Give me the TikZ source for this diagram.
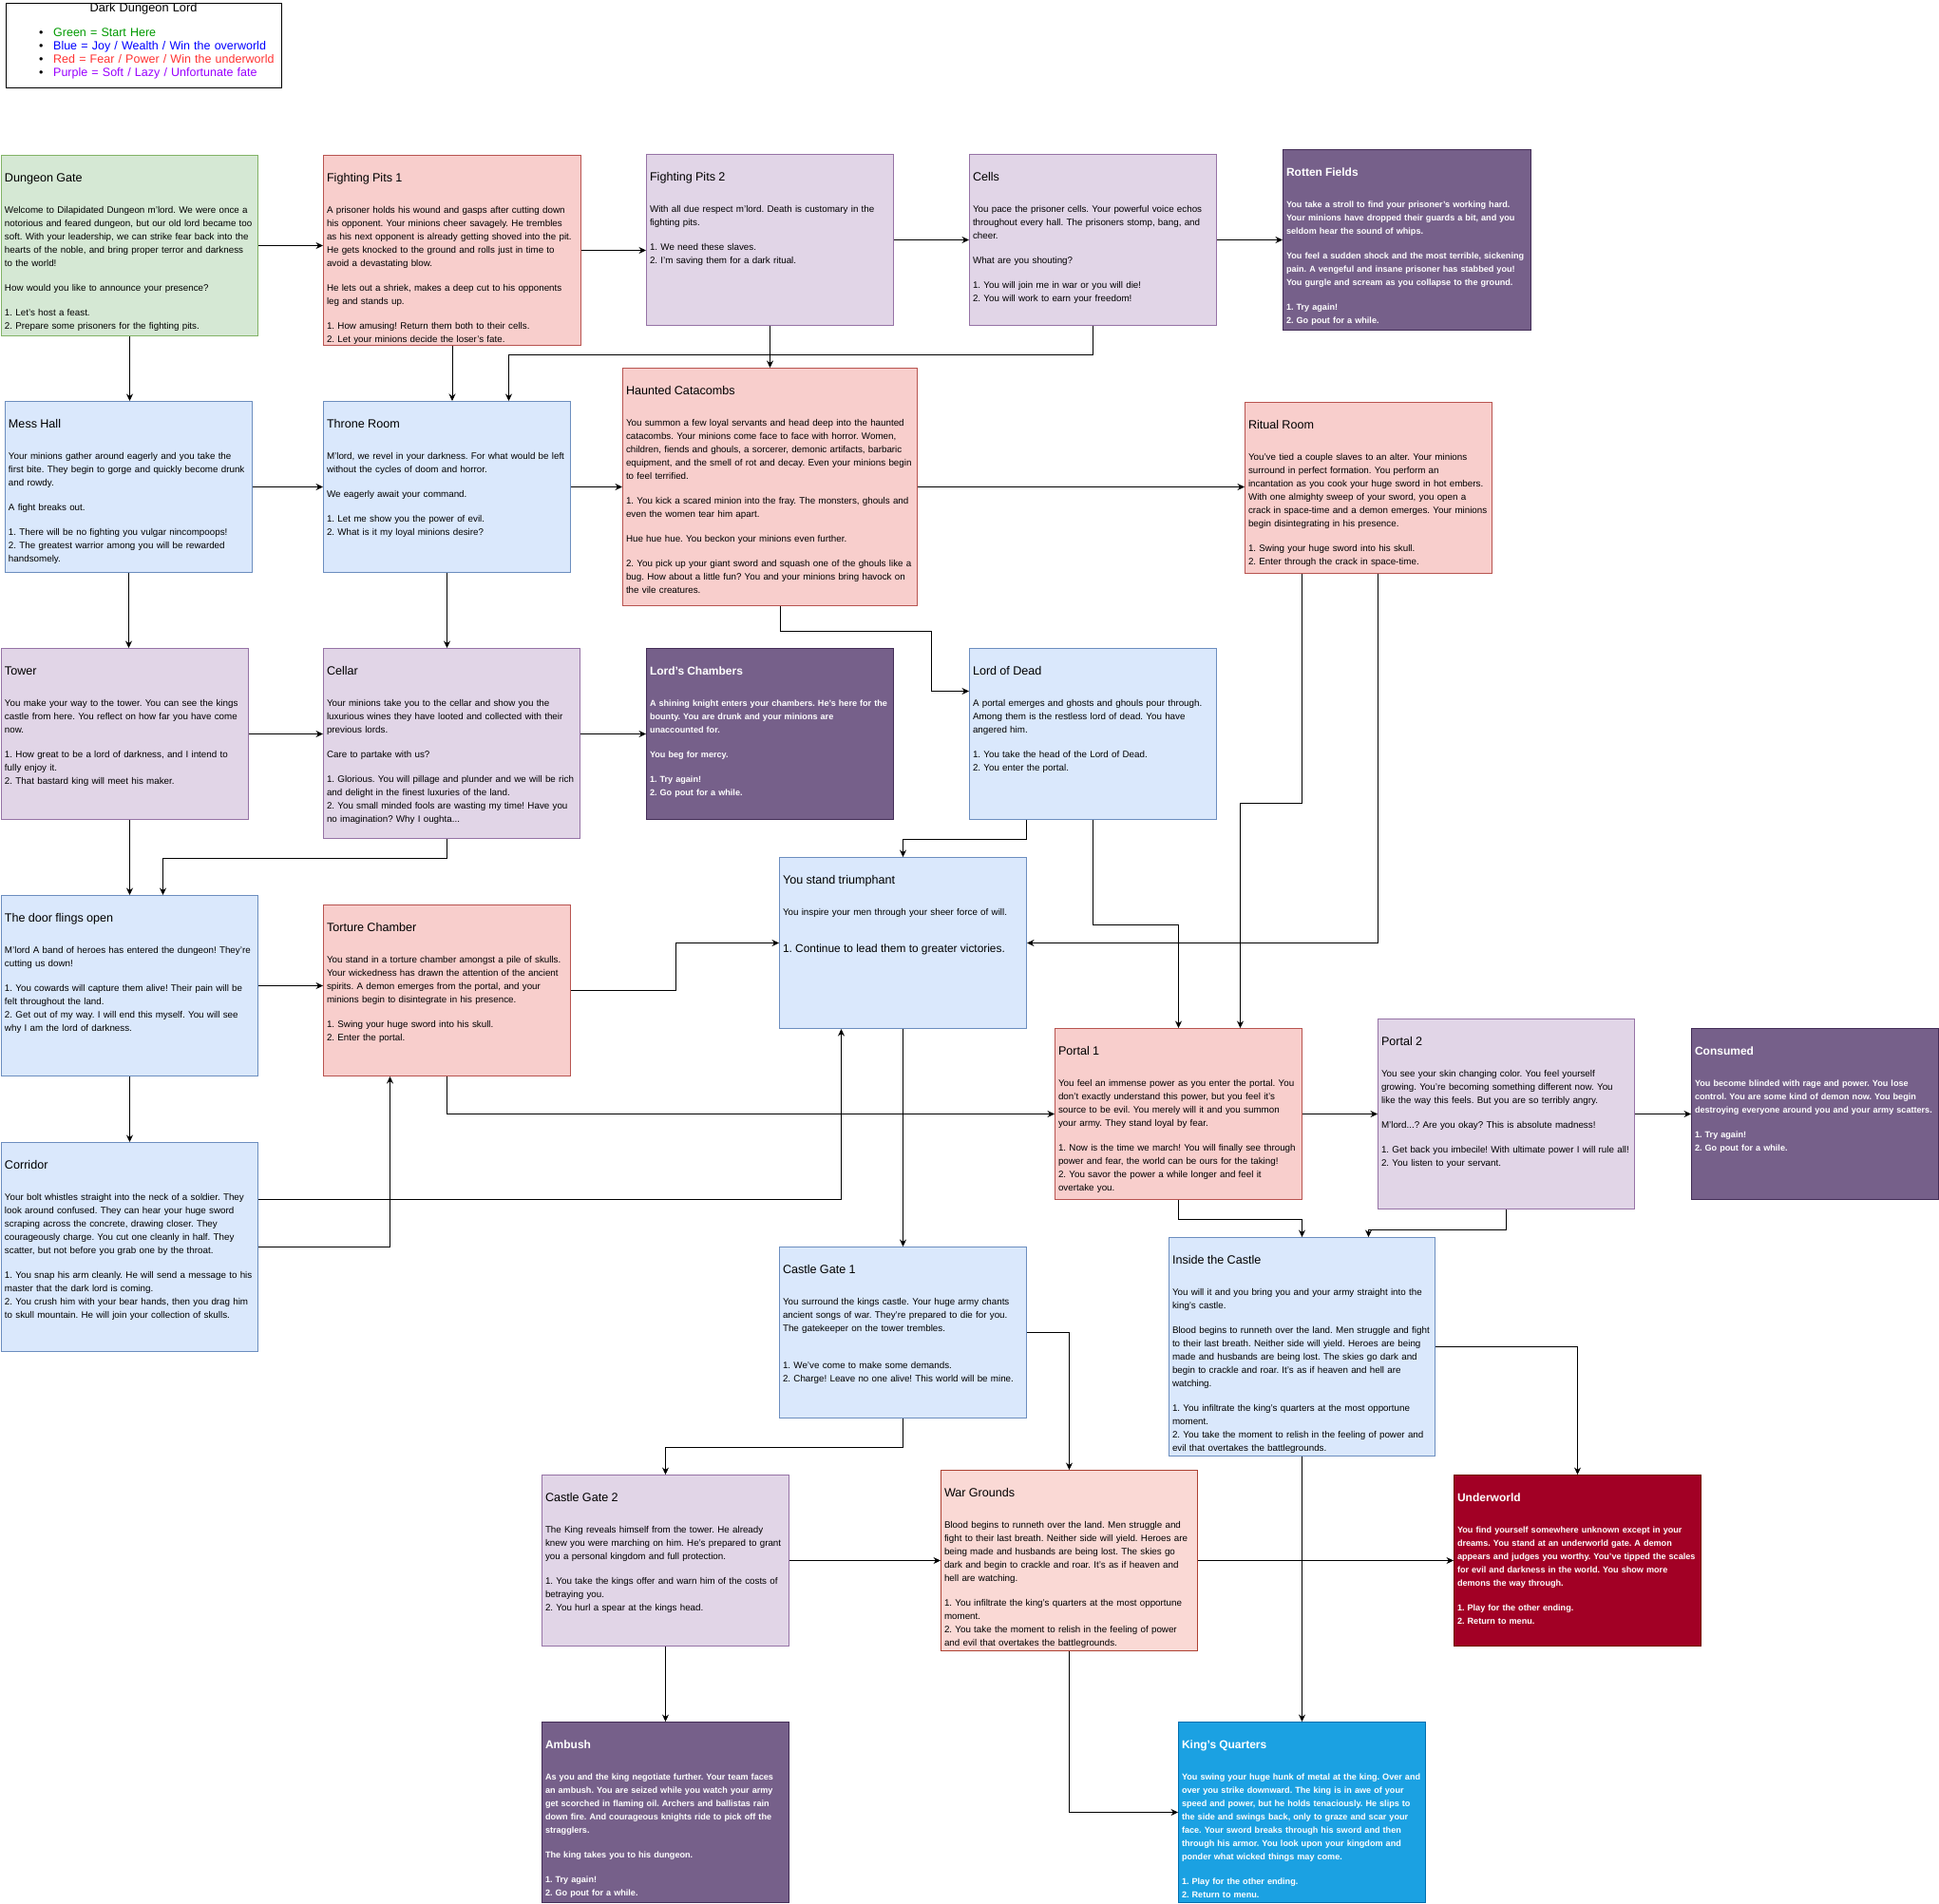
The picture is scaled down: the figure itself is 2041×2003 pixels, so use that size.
\documentclass[tikz,border=0pt]{standalone}
\usepackage{fontspec}
\setmainfont{Liberation Sans}
\usetikzlibrary{arrows.meta}
\frenchspacing
\hyphenpenalty=10000
\exhyphenpenalty=10000
\definecolor{startfill}{HTML}{D5E8D4}\definecolor{startline}{HTML}{82B366}
\definecolor{fearfill}{HTML}{F8CECC}\definecolor{fearline}{HTML}{B85450}
\definecolor{softfill}{HTML}{E1D5E7}\definecolor{softline}{HTML}{9673A6}
\definecolor{joyfill}{HTML}{DAE8FC}\definecolor{joyline}{HTML}{6C8EBF}
\definecolor{doomfill}{HTML}{76608A}\definecolor{doomline}{HTML}{432D57}
\definecolor{hellfill}{HTML}{A20025}\definecolor{hellline}{HTML}{6F0000}
\definecolor{crownfill}{HTML}{1BA1E2}\definecolor{crownline}{HTML}{006EAF}
\definecolor{warfill}{HTML}{FAD9D5}\definecolor{warline}{HTML}{AE4132}
\definecolor{keygreen}{HTML}{009900}\definecolor{keyblue}{HTML}{0000FF}
\definecolor{keyred}{HTML}{FF3333}\definecolor{keypurple}{HTML}{9900FF}
\newcommand{\roomfont}{\fontsize{9.8}{14}\selectfont}
\newcommand{\roomhead}{\fontsize{12.6}{15}\selectfont}
\newcommand{\doomfont}{\fontsize{9.1}{14}\selectfont\bfseries}
\newcommand{\doomhead}{\fontsize{12}{15}\selectfont\bfseries}
\begin{document}
\begin{tikzpicture}[x=1pt,y=-1pt,line width=1pt,>={Stealth[length=7.5pt,width=7pt,inset=2.5pt]},
  room/.style 2 args={draw,anchor=north west,inner xsep=3.5pt,inner ysep=0pt,align=left,
    font=\roomfont,text height=27.5pt,
    /utils/exec={\pgfmathsetmacro\roomw{#1-7}\pgfmathsetmacro\roomd{#2-27.5}},
    text width=\roomw pt,text depth=\roomd pt},
  startroom/.style={fill=startfill,draw=startline},
  fearroom/.style={fill=fearfill,draw=fearline},
  softroom/.style={fill=softfill,draw=softline},
  joyroom/.style={fill=joyfill,draw=joyline},
  warroom/.style={fill=warfill,draw=warline},
  doomroom/.style={fill=doomfill,draw=doomline,text=white,font=\doomfont},
  hellroom/.style={fill=hellfill,draw=hellline,text=white,font=\doomfont},
  crownroom/.style={fill=crownfill,draw=crownline,text=white,font=\doomfont}]
\useasboundingbox (0,0) rectangle (2041,2003);

\node[draw,anchor=north west,inner sep=0pt,align=left,text width=290pt,text height=9.1pt,
  text depth=80.5pt,font=\fontsize{12.5}{14}\selectfont] (legend) at (5.5,2.7)
 {\makebox[290pt]{\fontsize{12.8}{14}\selectfont Dark Dungeon Lord}\\[12.3pt]
  \hspace*{35pt}\textbullet\hspace{10.8pt}\textcolor{keygreen}{Green = Start Here}\\
  \hspace*{35pt}\textbullet\hspace{10.8pt}\textcolor{keyblue}{Blue = Joy / Wealth / Win the overworld}\\
  \hspace*{35pt}\textbullet\hspace{10.8pt}\textcolor{keyred}{Red = Fear / Power / Win the underworld}\\
  \hspace*{35pt}\textbullet\hspace{10.8pt}\textcolor{keypurple}{Purple = Soft / Lazy / Unfortunate fate}};

\node[room={270}{190},startroom] (gate) at (1,163) {{\roomhead Dungeon Gate}\\[19pt]
Welcome to Dilapidated Dungeon m'lord. We were once a\\
notorious and feared dungeon, but our old lord became too\\
soft. With your leadership, we can strike fear back into the\\
hearts of the noble, and bring proper terror and darkness\\
to the world!\\[12pt]
How would you like to announce your presence?\\[12pt]
1. Let's host a feast.\\
2. Prepare some prisoners for the fighting pits.};

\node[room={271}{200},fearroom] (pits1) at (340,163) {{\roomhead Fighting Pits 1}\\[19pt]
A prisoner holds his wound and gasps after cutting down\\
his opponent. Your minions cheer savagely. He trembles\\
as his next opponent is already getting shoved into the pit.\\
He gets knocked to the ground and rolls just in time to\\
avoid a devastating blow.\\[12pt]
He lets out a shriek, makes a deep cut to his opponents\\
leg and stands up.\\[12pt]
1. How amusing! Return them both to their cells.\\
2. Let your minions decide the loser's fate.};

\node[room={260}{180},softroom] (pits2) at (680,162) {{\roomhead Fighting Pits 2}\\[19pt]
With all due respect m'lord. Death is customary in the\\
fighting pits.\\[12pt]
1. We need these slaves.\\
2. I'm saving them for a dark ritual.};

\node[room={260}{180},softroom] (cells) at (1020,162) {{\roomhead Cells}\\[19pt]
You pace the prisoner cells. Your powerful voice echos\\
throughout every hall. The prisoners stomp, bang, and\\
cheer.\\[12pt]
What are you shouting?\\[12pt]
1. You will join me in war or you will die!\\
2. You will work to earn your freedom!};

\node[room={261}{190},doomroom] (rotten) at (1350,157) {{\doomhead Rotten Fields}\\[19pt]
You take a stroll to find your prisoner's working hard.\\
Your minions have dropped their guards a bit, and you\\
seldom hear the sound of whips.\\[12pt]
You feel a sudden shock and the most terrible, sickening\\
pain. A vengeful and insane prisoner has stabbed you!\\
You gurgle and scream as you collapse to the ground.\\[12pt]
1. Try again!\\
2. Go pout for a while.};

\node[room={260}{180},joyroom] (mess) at (5,422) {{\roomhead Mess Hall}\\[19pt]
Your minions gather around eagerly and you take the\\
first bite. They begin to gorge and quickly become drunk\\
and rowdy.\\[12pt]
A fight breaks out.\\[12pt]
1. There will be no fighting you vulgar nincompoops!\\
2. The greatest warrior among you will be rewarded\\
handsomely.};

\node[room={260}{180},joyroom] (throne) at (340,422) {{\roomhead Throne Room}\\[19pt]
M'lord, we revel in your darkness. For what would be left\\
without the cycles of doom and horror.\\[12pt]
We eagerly await your command.\\[12pt]
1. Let me show you the power of evil.\\
2. What is it my loyal minions desire?};

\node[room={310}{250},fearroom] (catacombs) at (655,387) {{\roomhead Haunted Catacombs}\\[19pt]
You summon a few loyal servants and head deep into the haunted\\
catacombs. Your minions come face to face with horror. Women,\\
children, fiends and ghouls, a sorcerer, demonic artifacts, barbaric\\
equipment, and the smell of rot and decay. Even your minions begin\\
to feel terrified.\\[12pt]
1. You kick a scared minion into the fray. The monsters, ghouls and\\
even the women tear him apart.\\[12pt]
Hue hue hue. You beckon your minions even further.\\[12pt]
2. You pick up your giant sword and squash one of the ghouls like a\\
bug. How about a little fun? You and your minions bring havock on\\
the vile creatures.};

\node[room={260}{180},fearroom] (ritual) at (1310,423) {{\roomhead Ritual Room}\\[19pt]
You've tied a couple slaves to an alter. Your minions\\
surround in perfect formation. You perform an\\
incantation as you cook your huge sword in hot embers.\\
With one almighty sweep of your sword, you open a\\
crack in space-time and a demon emerges. Your minions\\
begin disintegrating in his presence.\\[12pt]
1. Swing your huge sword into his skull.\\
2. Enter through the crack in space-time.};

\node[room={260}{180},softroom] (tower) at (1,682) {{\roomhead Tower}\\[19pt]
You make your way to the tower. You can see the kings\\
castle from here. You reflect on how far you have come\\
now.\\[12pt]
1. How great to be a lord of darkness, and I intend to\\
fully enjoy it.\\
2. That bastard king will meet his maker.};

\node[room={270}{200},softroom] (cellar) at (340,682) {{\roomhead Cellar}\\[19pt]
Your minions take you to the cellar and show you the\\
luxurious wines they have looted and collected with their\\
previous lords.\\[12pt]
Care to partake with us?\\[12pt]
1. Glorious. You will pillage and plunder and we will be rich\\
and delight in the finest luxuries of the land.\\
2. You small minded fools are wasting my time! Have you\\
no imagination? Why I oughta...};

\node[room={260}{180},doomroom] (chambers) at (680,682) {{\doomhead Lord's Chambers}\\[19pt]
A shining knight enters your chambers. He's here for the\\
bounty. You are drunk and your minions are\\
unaccounted for.\\[12pt]
You beg for mercy.\\[12pt]
1. Try again!\\
2. Go pout for a while.};

\node[room={260}{180},joyroom] (lordofdead) at (1020,682) {{\roomhead Lord of Dead}\\[19pt]
A portal emerges and ghosts and ghouls pour through.\\
Among them is the restless lord of dead. You have\\
angered him.\\[12pt]
1. You take the head of the Lord of Dead.\\
2. You enter the portal.};

\node[room={260}{180},joyroom] (triumphant) at (820,902) {{\roomhead You stand triumphant}\\[19pt]
You inspire your men through your sheer force of will.\\[25.8pt]
{\fontsize{11.9}{14}\selectfont 1. Continue to lead them to greater victories.}};

\node[room={270}{190},joyroom] (door) at (1,942) {{\roomhead The door flings open}\\[19pt]
M'lord A band of heroes has entered the dungeon! They're\\
cutting us down!\\[12pt]
1. You cowards will capture them alive! Their pain will be\\
felt throughout the land.\\
2. Get out of my way. I will end this myself. You will see\\
why I am the lord of darkness.};

\node[room={260}{180},fearroom] (torture) at (340,952) {{\roomhead Torture Chamber}\\[19pt]
You stand in a torture chamber amongst a pile of skulls.\\
Your wickedness has drawn the attention of the ancient\\
spirits. A demon emerges from the portal, and your\\
minions begin to disintegrate in his presence.\\[12pt]
1. Swing your huge sword into his skull.\\
2. Enter the portal.};

\node[room={270}{220},joyroom] (corridor) at (1,1202) {{\roomhead Corridor}\\[19pt]
Your bolt whistles straight into the neck of a soldier. They\\
look around confused. They can hear your huge sword\\
scraping across the concrete, drawing closer. They\\
courageously charge. You cut one cleanly in half. They\\
scatter, but not before you grab one by the throat.\\[12pt]
1. You snap his arm cleanly. He will send a message to his\\
master that the dark lord is coming.\\
2. You crush him with your bear hands, then you drag him\\
to skull mountain. He will join your collection of skulls.};

\node[room={260}{180},fearroom] (portal1) at (1110,1082) {{\roomhead Portal 1}\\[19pt]
You feel an immense power as you enter the portal. You\\
don't exactly understand this power, but you feel it's\\
source to be evil. You merely will it and you summon\\
your army. They stand loyal by fear.\\[12pt]
1. Now is the time we march! You will finally see through\\
power and fear, the world can be ours for the taking!\\
2. You savor the power a while longer and feel it\\
overtake you.};

\node[room={270}{200},softroom] (portal2) at (1450,1072) {{\roomhead Portal 2}\\[19pt]
You see your skin changing color. You feel yourself\\
growing. You're becoming something different now. You\\
like the way this feels. But you are so terribly angry.\\[12pt]
M'lord...? Are you okay? This is absolute madness!\\[12pt]
1. Get back you imbecile! With ultimate power I will rule all!\\
2. You listen to your servant.};

\node[room={260}{180},doomroom] (consumed) at (1780,1082) {{\doomhead Consumed}\\[19pt]
You become blinded with rage and power. You lose\\
control. You are some kind of demon now. You begin\\
destroying everyone around you and your army scatters.\\[12pt]
1. Try again!\\
2. Go pout for a while.};

\node[room={260}{180},joyroom] (gate1) at (820,1312) {{\roomhead Castle Gate 1}\\[19pt]
You surround the kings castle. Your huge army chants\\
ancient songs of war. They're prepared to die for you.\\
The gatekeeper on the tower trembles.\\[25pt]
1. We've come to make some demands.\\
2. Charge! Leave no one alive! This world will be mine.};

\node[room={280}{230},joyroom] (inside) at (1230,1302) {{\roomhead Inside the Castle}\\[19pt]
You will it and you bring you and your army straight into the\\
king's castle.\\[12pt]
Blood begins to runneth over the land. Men struggle and fight\\
to their last breath. Neither side will yield. Heroes are being\\
made and husbands are being lost. The skies go dark and\\
begin to crackle and roar. It's as if heaven and hell are\\
watching.\\[12pt]
1. You infiltrate the king's quarters at the most opportune\\
moment.\\
2. You take the moment to relish in the feeling of power and\\
evil that overtakes the battlegrounds.};

\node[room={260}{180},softroom] (gate2) at (570,1552) {{\roomhead Castle Gate 2}\\[19pt]
The King reveals himself from the tower. He already\\
knew you were marching on him. He's prepared to grant\\
you a personal kingdom and full protection.\\[12pt]
1. You take the kings offer and warn him of the costs of\\
betraying you.\\
2. You hurl a spear at the kings head.};

\node[room={270}{190},warroom] (war) at (990,1547) {{\roomhead War Grounds}\\[19pt]
Blood begins to runneth over the land. Men struggle and\\
fight to their last breath. Neither side will yield. Heroes are\\
being made and husbands are being lost. The skies go\\
dark and begin to crackle and roar. It's as if heaven and\\
hell are watching.\\[12pt]
1. You infiltrate the king's quarters at the most opportune\\
moment.\\
2. You take the moment to relish in the feeling of power\\
and evil that overtakes the battlegrounds.};

\node[room={260}{180},hellroom] (underworld) at (1530,1552) {{\doomhead Underworld}\\[19pt]
You find yourself somewhere unknown except in your\\
dreams. You stand at an underworld gate. A demon\\
appears and judges you worthy. You've tipped the scales\\
for evil and darkness in the world. You show more\\
demons the way through.\\[12pt]
1. Play for the other ending.\\
2. Return to menu.};

\node[room={260}{190},doomroom] (ambush) at (570,1812) {{\doomhead Ambush}\\[19pt]
As you and the king negotiate further. Your team faces\\
an ambush. You are seized while you watch your army\\
get scorched in flaming oil. Archers and ballistas rain\\
down fire. And courageous knights ride to pick off the\\
stragglers.\\[12pt]
The king takes you to his dungeon.\\[12pt]
1. Try again!\\
2. Go pout for a while.};

\node[room={260}{190},crownroom] (kings) at (1240,1812) {{\doomhead King's Quarters}\\[19pt]
You swing your huge hunk of metal at the king. Over and\\
over you strike downward. The king is in awe of your\\
speed and power, but he holds tenaciously. He slips to\\
the side and swings back, only to graze and scar your\\
face. Your sword breaks through his sword and then\\
through his armor. You look upon your kingdom and\\
ponder what wicked things may come.\\[12pt]
1. Play for the other ending.\\
2. Return to menu.};

\draw[->] (gate.east) -- (gate.east -| pits1.west);
\draw[->] (pits1.east) -- (pits1.east -| pits2.west);
\draw[->] (pits2.east) -- (cells.west);
\draw[->] (cells.east) -- (rotten.west);
\draw[->] (gate.south) -- (gate.south |- mess.north);
\draw[->] (pits1.south) -- (pits1.south |- throne.north);
\draw[->] (pits2.south) -- (catacombs.north);
\draw[->] (cells.south) -- ++(0,30) -| ([xshift=65pt]throne.north);
\draw[->] (mess.east) -- (throne.west);
\draw[->] (throne.east) -- (catacombs.west);
\draw[->] (catacombs.east) -- (catacombs.east -| ritual.west);
\draw[->] (mess.south) -- (mess.south |- tower.north);
\draw[->] (throne.south) -- (throne.south |- cellar.north);
\draw[->] ([xshift=11pt]catacombs.south) -- ++(0,26) -- ++(159,0) |- ([yshift=45pt]lordofdead.west);
\draw[->] (tower.east) -- (tower.east -| cellar.west);
\draw[->] (chambers.west -| cellar.east) -- (chambers.west);
\draw[->] (door.north |- tower.south) -- (door.north);
\draw[->] ([xshift=-5pt]cellar.south) -- ++(0,20) -| ([xshift=35pt]door.north);
\draw[->] ([xshift=-70pt]lordofdead.south) -- ++(0,20) -| (triumphant.north);
\draw[->] (lordofdead.south) -- ++(0,110) -| (portal1.north);
\draw[->] ([xshift=10pt]ritual.south) |- (triumphant.east);
\draw[->] ([xshift=-70pt]ritual.south) -- ++(0,241) -| ([xshift=65pt]portal1.north);
\draw[->] (door.east) -- (door.east -| torture.west);
\draw[->] (door.south) -- (door.south |- corridor.north);
\draw[->] (torture.east) -- ++(110,0) |- (triumphant.west);
\draw[->] (torture.south) |- (portal1.west);
\draw[->] ([yshift=50pt]corridor.east) -| ([xshift=-65pt]triumphant.south);
\draw[->] (corridor.east) -| ([xshift=-60pt]torture.south);
\draw[->] (triumphant.south) -- (gate1.north);
\draw[->] (portal1.east) -- (portal2.west);
\draw[->] (portal2.east) -- (consumed.west);
\draw[->] (portal1.south) -- ++(0,20) -| (inside.north);
\draw[->] (portal2.south) -- ++(0,21) -| ([xshift=70pt]inside.north);
\draw[->] (gate1.south) -- ++(0,30) -| (gate2.north);
\draw[->] (gate1.east) -| (war.north);
\draw[->] (inside.east) -| (underworld.north);
\draw[->] (inside.south) -- (kings.north);
\draw[->] (gate2.east) -- (war.west);
\draw[->] (war.east) -- (underworld.west);
\draw[->] (gate2.south) -- (ambush.north);
\draw[->] (war.south) |- (kings.west);
\end{tikzpicture}
\end{document}
